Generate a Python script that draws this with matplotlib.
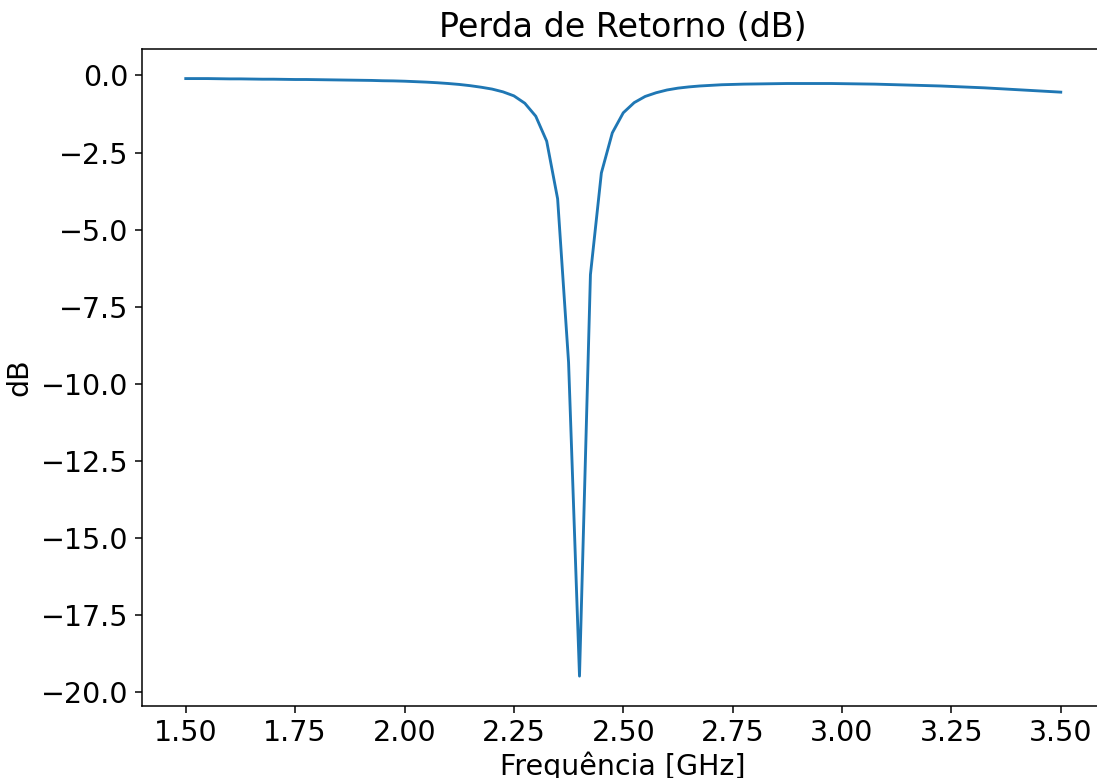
import numpy as np
import matplotlib
matplotlib.use("Agg")
import matplotlib.pyplot as plt

freq_ghz = [1.500, 1.525, 1.550, 1.575, 1.600, 1.625, 1.650, 1.675, 1.700, 1.725,
            1.750, 1.775, 1.800, 1.825, 1.850, 1.875, 1.900, 1.925, 1.950, 1.975,
            2.000, 2.025, 2.050, 2.075, 2.100, 2.125, 2.150, 2.175, 2.200, 2.225,
            2.250, 2.275, 2.300, 2.325, 2.350, 2.375, 2.400, 2.425, 2.450, 2.475,
            2.500, 2.525, 2.550, 2.575, 2.600, 2.625, 2.650, 2.675, 2.700, 2.725,
            2.750, 2.775, 2.800, 2.825, 2.850, 2.875, 2.900, 2.925, 2.950, 2.975,
            3.000, 3.025, 3.050, 3.075, 3.100, 3.125, 3.150, 3.175, 3.200, 3.225,
            3.250, 3.275, 3.300, 3.325, 3.350, 3.375, 3.400, 3.425, 3.450, 3.475,
            3.500]
s11_db = [-0.10, -0.10, -0.10, -0.105, -0.11, -0.11, -0.115, -0.12, -0.12, -0.125,
          -0.13, -0.13, -0.135, -0.14, -0.145, -0.15, -0.155, -0.16, -0.17, -0.175,
          -0.185, -0.20, -0.215, -0.235, -0.26, -0.29, -0.33, -0.38, -0.44, -0.53,
          -0.66, -0.90, -1.32, -2.13, -4.00, -9.30, -19.48, -6.46, -3.16, -1.86,
          -1.21, -0.88, -0.68, -0.56, -0.47, -0.41, -0.37, -0.34, -0.32, -0.30,
          -0.29, -0.28, -0.275, -0.27, -0.265, -0.26, -0.26, -0.26, -0.26, -0.26,
          -0.265, -0.27, -0.275, -0.28, -0.29, -0.30, -0.31, -0.32, -0.33, -0.34,
          -0.355, -0.37, -0.385, -0.40, -0.42, -0.44, -0.46, -0.48, -0.50, -0.52,
          -0.54]

DPI = 137
W, H = 1097, 778
plt.rcParams['font.size'] = 15
fig = plt.figure(figsize=(W / DPI, H / DPI), dpi=DPI)
left, right, top, bottom = 142.0, 1104.5, 48.7, 706.0
ax = fig.add_axes([left / W, (H - bottom) / H, (right - left) / W, (bottom - top) / H])
ax.plot(freq_ghz, s11_db, color='#1f77b4', linewidth=1.5)
ax.set_title('Perda de Retorno (dB)', fontsize=17.5)
ax.set_xlabel('Frequência [GHz]', labelpad=2)
ax.set_ylabel('dB')
fig.savefig('out.png', dpi=DPI)
